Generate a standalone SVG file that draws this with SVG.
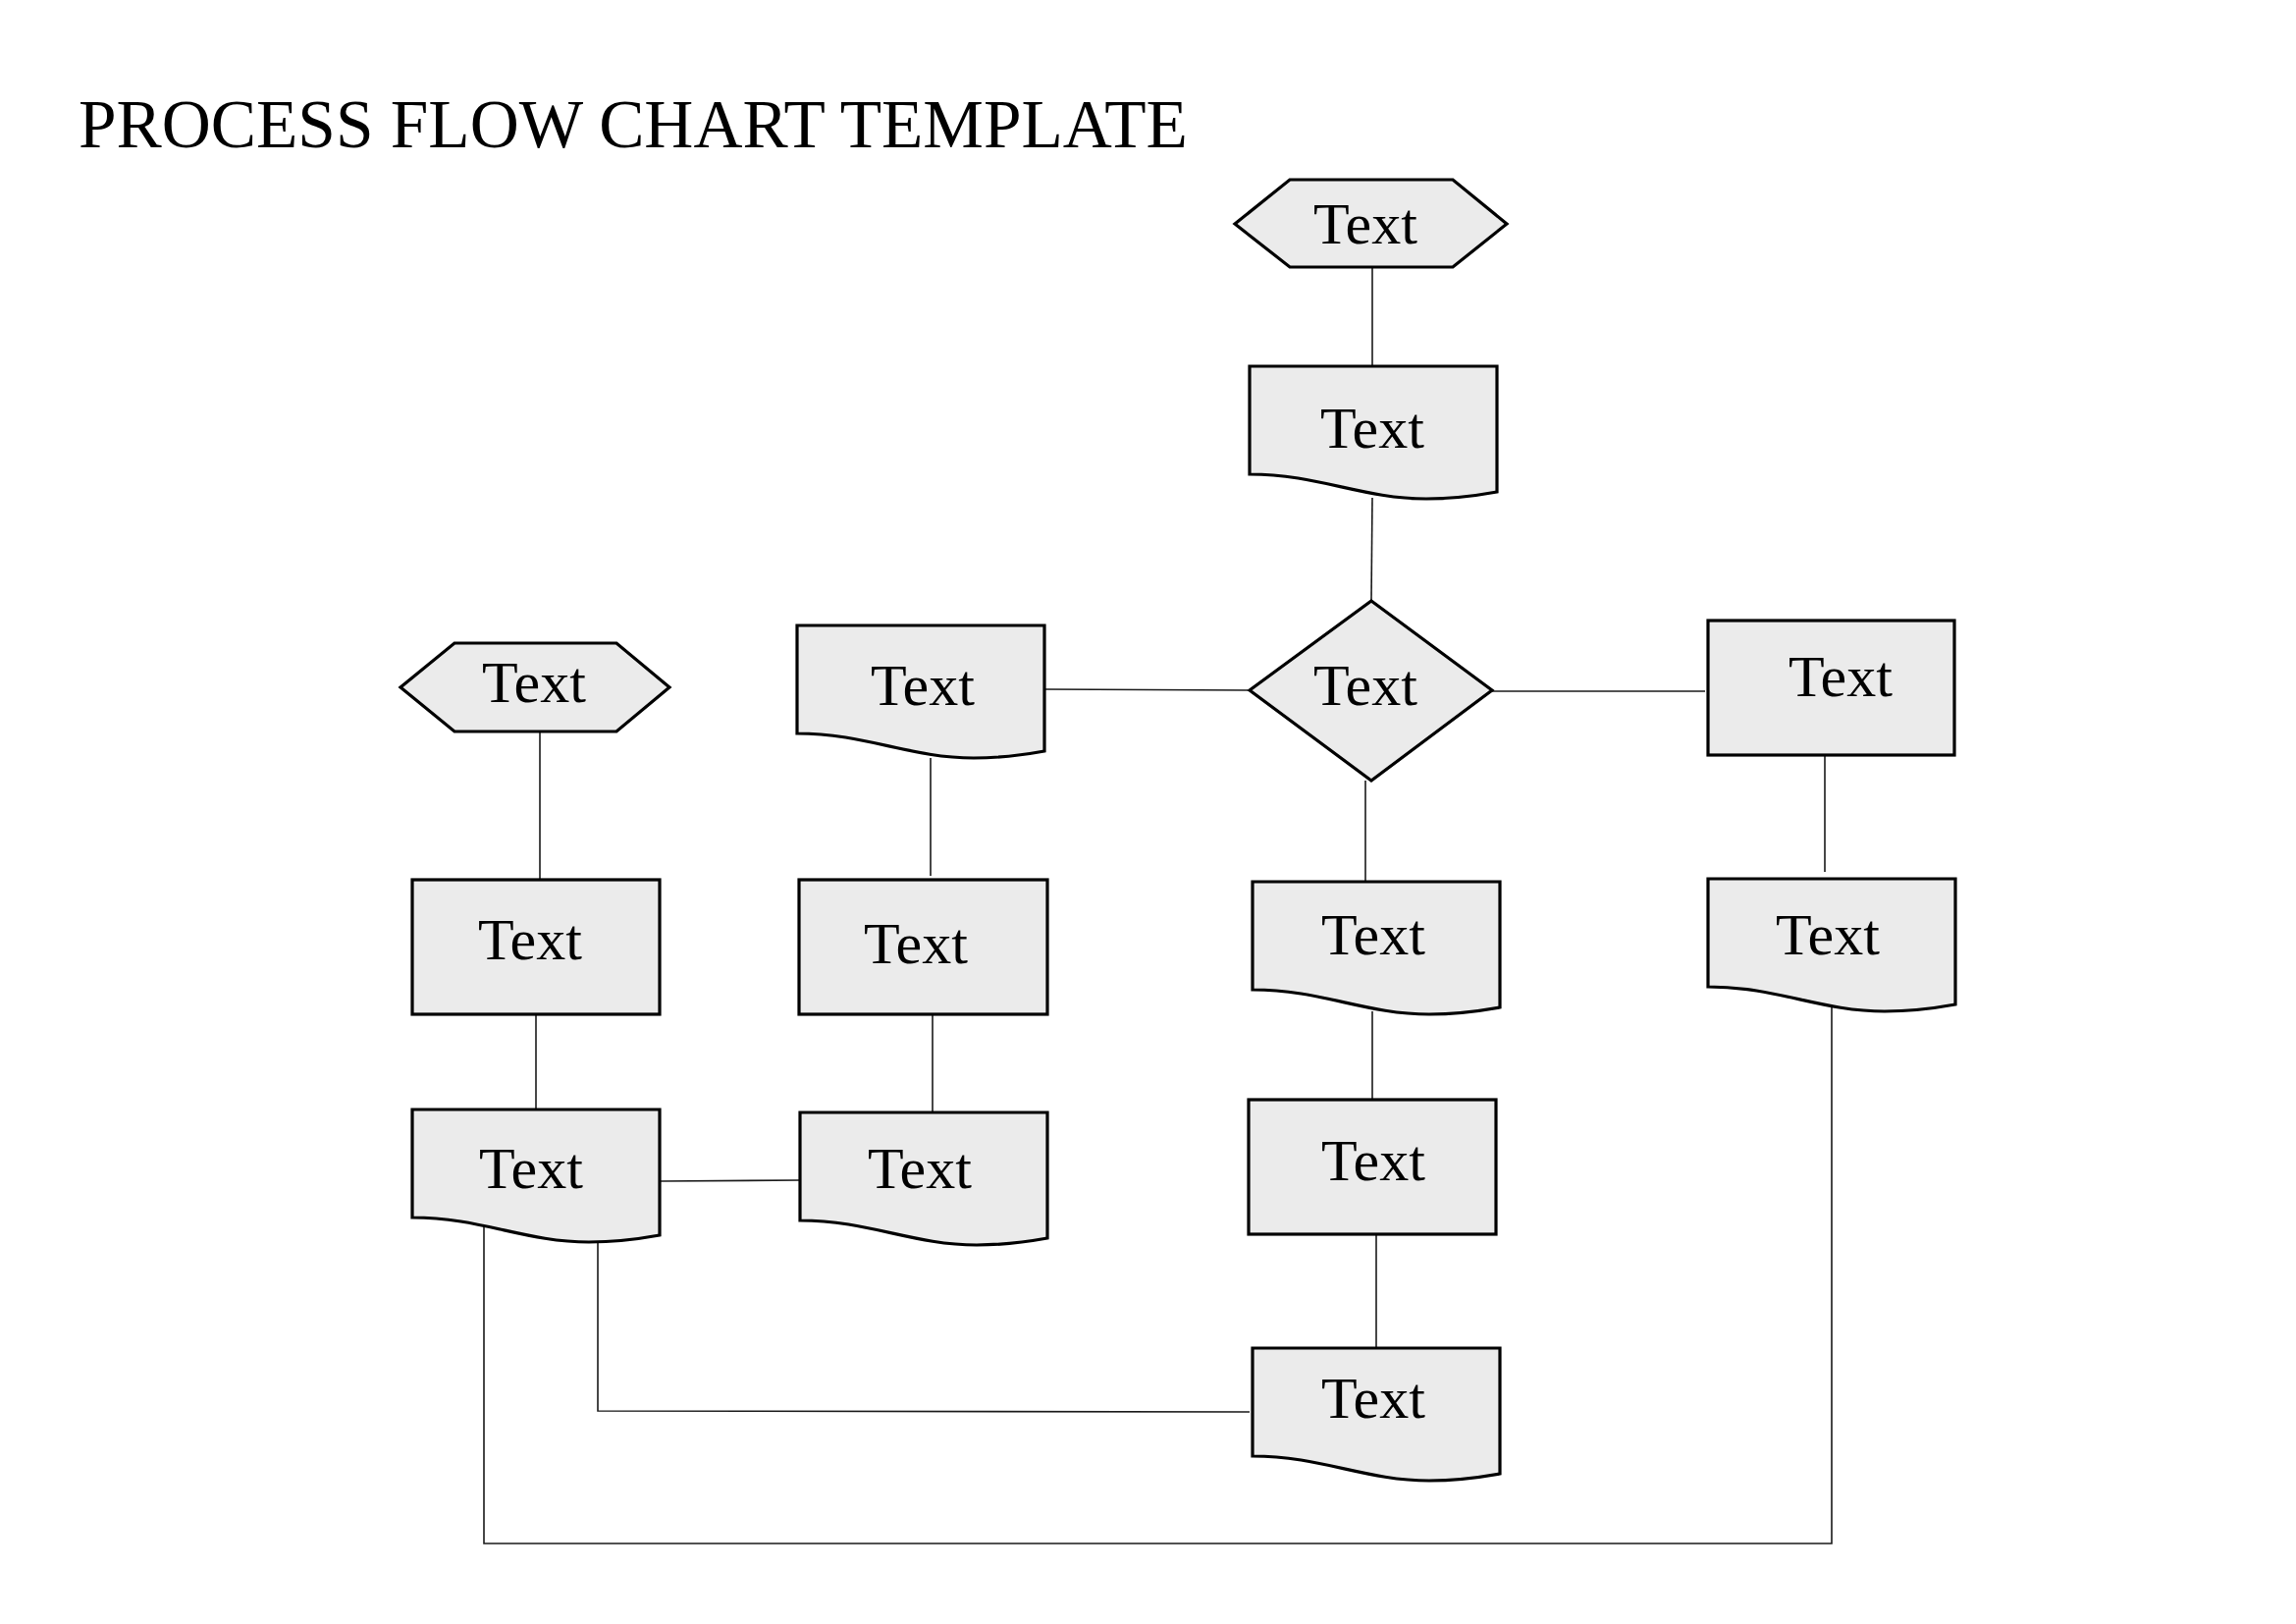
<svg xmlns="http://www.w3.org/2000/svg" xmlns:xlink="http://www.w3.org/1999/xlink" width="2339" height="1654" viewBox="0 0 2339 1654">
<style>
.shape{fill:#ebebeb;stroke:#000;stroke-width:3.2;stroke-linejoin:miter}
.lbl{font-family:"Liberation Serif","Times New Roman",serif;font-size:60px;fill:#000;text-anchor:middle}
.title{font-family:"Liberation Serif","Times New Roman",serif;font-size:69.3px;fill:#000}
.conn{fill:none;stroke:#1a1a1a;stroke-width:1.6}
</style>
<defs>
<path id="doc" d="M0,0 V110 C70,110 115,135 180,135 C208,135 230,132 252,128 V0 Z"/>
</defs>
<rect width="2339" height="1654" fill="#fff"/>
<text class="title" x="80" y="150">PROCESS FLOW CHART TEMPLATE</text>

<g id="connectors">
<line class="conn" x1="1398" y1="272" x2="1398" y2="372"/>
<line class="conn" x1="1398" y1="507" x2="1397" y2="612"/>
<line class="conn" x1="1064" y1="702" x2="1273" y2="703"/>
<line class="conn" x1="1520" y1="704" x2="1737" y2="704"/>
<line class="conn" x1="948" y1="772" x2="948" y2="892"/>
<line class="conn" x1="550" y1="746" x2="550" y2="896"/>
<line class="conn" x1="1391" y1="795" x2="1391" y2="897"/>
<line class="conn" x1="1859" y1="769" x2="1859" y2="888"/>
<line class="conn" x1="546" y1="1033" x2="546" y2="1130"/>
<line class="conn" x1="950" y1="1033" x2="950" y2="1133"/>
<line class="conn" x1="673" y1="1203" x2="815" y2="1202"/>
<line class="conn" x1="1398" y1="1030" x2="1398" y2="1120"/>
<line class="conn" x1="1402" y1="1257" x2="1402" y2="1373"/>
<polyline class="conn" points="609,1266 609,1437 1273,1438"/>
<polyline class="conn" points="493,1247 493,1572 1866,1572 1866,1020"/>
</g>

<g id="n1">
<polygon class="shape" points="1258,228 1314,183 1480,183 1535,228 1480,272 1314,272"/>
<text class="lbl" x="1391" y="248">Text</text>
</g>
<g id="n2">
<use href="#doc" xlink:href="#doc" class="shape" transform="translate(1273,373)"/>
<text class="lbl" x="1398" y="456">Text</text>
</g>
<g id="n3">
<polygon class="shape" points="408,700 463,655 628,655 682,700 628,745 463,745"/>
<text class="lbl" x="544" y="715">Text</text>
</g>
<g id="n4">
<rect class="shape" x="1740" y="632" width="251" height="137"/>
<text class="lbl" x="1875" y="709">Text</text>
</g>
<g id="n5">
<use href="#doc" xlink:href="#doc" class="shape" transform="translate(812,637)"/>
<text class="lbl" x="940" y="718">Text</text>
</g>
<g id="n8">
<polygon class="shape" points="1397,612 1520,703 1397,795 1273,703"/>
<text class="lbl" x="1391" y="718">Text</text>
</g>
<g id="n6">
<rect class="shape" x="420" y="896" width="252" height="137"/>
<text class="lbl" x="540" y="977">Text</text>
</g>
<g id="n7">
<rect class="shape" x="814" y="896" width="253" height="137"/>
<text class="lbl" x="933" y="981">Text</text>
</g>
<g id="n9">
<use href="#doc" xlink:href="#doc" class="shape" transform="translate(1276,898)"/>
<text class="lbl" x="1399" y="972">Text</text>
</g>
<g id="n10">
<use href="#doc" xlink:href="#doc" class="shape" transform="translate(1740,895)"/>
<text class="lbl" x="1862" y="972">Text</text>
</g>
<g id="n11">
<use href="#doc" xlink:href="#doc" class="shape" transform="translate(420,1130)"/>
<text class="lbl" x="541" y="1210">Text</text>
</g>
<g id="n12">
<use href="#doc" xlink:href="#doc" class="shape" transform="translate(815,1133)"/>
<text class="lbl" x="937" y="1210">Text</text>
</g>
<g id="n13">
<rect class="shape" x="1272" y="1120" width="252" height="137"/>
<text class="lbl" x="1399" y="1202">Text</text>
</g>
<g id="n14">
<use href="#doc" xlink:href="#doc" class="shape" transform="translate(1276,1373)"/>
<text class="lbl" x="1399" y="1444">Text</text>
</g>
</svg>
